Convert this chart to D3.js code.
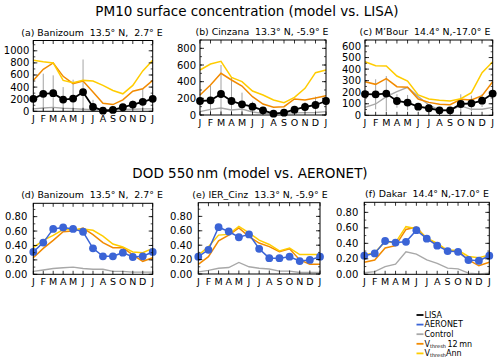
<!DOCTYPE html>
<html>
<head>
<meta charset="utf-8">
<script src="https://cdn.jsdelivr.net/npm/d3@7"></script>
<style>
  body { margin: 0; background: #fff; }
  text { font-family: "DejaVu Sans", sans-serif; white-space: pre; }
</style>
</head>
<body>
<div id="chart"></div>
<script>
// month labels (Jan repeated at the end)
const months = ["J", "F", "M", "A", "M", "J", "J", "A", "S", "O", "N", "D", "J"];

// ---- PM10 (ug/m3) ----
const lisa_a = [206, 289, 300, 194, 211, 317, 72, 11, 22, 67, 111, 156, 206];
const lisaSd_a = [40, 333, 294, 206, 311, 539, 117, 20, 25, 40, 67, 216, 40];
const control_a = [40, 55, 65, 50, 45, 35, 25, 20, 25, 30, 35, 40, 40];
const mn12_a = [511, 694, 800, 578, 456, 500, 317, 133, 111, 189, 333, 372, 511];
const ann_a = [844, 817, 800, 511, 472, 511, 500, 428, 344, 289, 428, 667, 844];

const lisa_b = [168, 176, 252, 168, 128, 100, 56, 16, 28, 64, 96, 120, 168];
const lisaSd_b = [40, 174, 348, 284, 140, 60, 40, 15, 20, 40, 60, 100, 40];
const control_b = [40, 68, 84, 60, 72, 36, 20, 20, 22, 25, 28, 30, 40];
const mn12_b = [240, 360, 500, 420, 348, 220, 132, 92, 100, 192, 180, 204, 232];
const ann_b = [540, 612, 644, 452, 400, 288, 240, 180, 148, 212, 320, 508, 540];

const lisa_c = [184, 182, 188, 124, 110, 75, 61, 43, 43, 98, 104, 127, 188];
const lisaSd_c = [30, 130, 152, 58, 66, 20, 20, 15, 20, 84, 66, 55, 30];
const control_c = [69, 98, 162, 205, 242, 162, 89, 46, 46, 81, 52, 52, 69];
const mn12_c = [291, 268, 317, 248, 242, 141, 112, 95, 92, 138, 133, 170, 291];
const ann_c = [464, 430, 427, 340, 297, 176, 141, 130, 124, 144, 196, 369, 464];

// ---- DOD 550 nm ----
const aeronet_d = [0.31, 0.44, 0.63, 0.65, 0.63, 0.59, 0.36, 0.25, 0.25, 0.30, 0.24, 0.25, 0.31];
const control_d = [0.04, 0.06, 0.08, 0.09, 0.10, 0.08, 0.07, 0.07, 0.04, 0.04, 0.03, 0.03, 0.03];
const mn12_d = [0.23, 0.36, 0.47, 0.59, 0.60, 0.64, 0.55, 0.44, 0.37, 0.37, 0.27, 0.18, 0.23];
const ann_d = [0.37, 0.47, 0.54, 0.62, 0.62, 0.63, 0.61, 0.53, 0.42, 0.38, 0.31, 0.30, 0.36];

const aeronet_e = [0.24, 0.335, 0.65, 0.59, 0.51, 0.55, 0.35, 0.22, 0.22, 0.24, 0.18, 0.195, 0.24];
const control_e = [0.03, 0.05, 0.08, 0.09, 0.16, 0.10, 0.08, 0.07, 0.04, 0.04, 0.02, 0.02, 0.02];
const mn12_e = [0.135, 0.24, 0.46, 0.54, 0.64, 0.52, 0.43, 0.38, 0.31, 0.35, 0.195, 0.135, 0.135];
const ann_e = [0.26, 0.38, 0.54, 0.55, 0.66, 0.57, 0.47, 0.41, 0.32, 0.36, 0.27, 0.27, 0.27];

const aeronet_f = [0.24, 0.27, 0.43, 0.41, 0.42, 0.57, 0.46, 0.37, 0.30, 0.29, 0.185, 0.175, 0.24];
const control_f = [0.02, 0.035, 0.10, 0.13, 0.29, 0.26, 0.185, 0.14, 0.08, 0.07, 0.015, 0.005, 0.015];
const mn12_f = [0.155, 0.185, 0.34, 0.37, 0.58, 0.61, 0.46, 0.39, 0.30, 0.30, 0.185, 0.11, 0.155];
const ann_f = [0.25, 0.28, 0.42, 0.41, 0.615, 0.59, 0.47, 0.40, 0.31, 0.31, 0.23, 0.215, 0.25];

const legendLabels = ["LISA", "AERONET", "Control", "12mn", "Ann"];

const col = { obs: "#000000", aer: "#3b64d6", ctl: "#a8a8a8", mn12: "#f28a00", ann: "#ffcc00" };

const svg = d3.select("#chart").append("svg")
  .attr("width", 500).attr("height", 363)
  .style("background", "#fff");

// main titles
svg.append("text").attr("x", 247).attr("y", 16).attr("text-anchor", "middle")
  .style("font-size", "13.5px").text("PM10 surface concentration (model vs. LISA)");
svg.append("text").attr("x", 250).attr("y", 178).attr("text-anchor", "middle")
  .style("font-size", "13.5px").text("DOD 550\u2009nm (model vs. AERONET)");

const panels = [
  { title: "(a) Banizoum  13.5\u00b0 N,  2.7\u00b0 E", tx: 92, x0: 33.3, x1: 152.7, y0: 40.5, y1: 111.3, ymax: 1170, step: 200, minor: 100, fmt: d3.format("d"),
    obs: lisa_a, sd: lisaSd_a, ctl: control_a, mn12: mn12_a, ann: ann_a },
  { title: "(b) Cinzana  13.3\u00b0 N, -5.9\u00b0 E", tx: 262, x0: 200, x1: 326, y0: 40, y1: 115, ymax: 900, step: 200, minor: 100, fmt: d3.format("d"),
    obs: lisa_b, sd: lisaSd_b, ctl: control_b, mn12: mn12_b, ann: ann_b },
  { title: "(c) M\u2019Bour  14.4\u00b0 N,-17.0\u00b0 E", tx: 425, x0: 365, x1: 492.7, y0: 40, y1: 115.3, ymax: 652, step: 100, minor: 50, fmt: d3.format("d"),
    obs: lisa_c, sd: lisaSd_c, ctl: control_c, mn12: mn12_c, ann: ann_c },
  { title: "(d) Banizoum  13.5\u00b0 N,  2.7\u00b0 E", tx: 92, x0: 33.3, x1: 152.7, y0: 203.3, y1: 274.3, ymax: 0.985, step: 0.2, minor: 0.1, fmt: d3.format(".2f"),
    aer: aeronet_d, ctl: control_d, mn12: mn12_d, ann: ann_d },
  { title: "(e) IER_Cinz  13.3\u00b0 N, -5.9\u00b0 E", tx: 260, x0: 198.3, x1: 320, y0: 202.7, y1: 274, ymax: 0.99, step: 0.2, minor: 0.1, fmt: d3.format(".2f"),
    aer: aeronet_e, ctl: control_e, mn12: mn12_e, ann: ann_e },
  { title: "(f) Dakar  14.4\u00b0 N,-17.0\u00b0 E", tx: 427, x0: 364.3, x1: 489.3, y0: 202.3, y1: 274.3, ymax: 0.93, step: 0.2, minor: 0.1, fmt: d3.format(".2f"),
    aer: aeronet_f, ctl: control_f, mn12: mn12_f, ann: ann_f }
];

panels.forEach(function (p) {
  const g = svg.append("g");
  const x = d3.scaleLinear().domain([0, 12]).range([p.x0, p.x1]);
  const y = d3.scaleLinear().domain([0, p.ymax]).range([p.y1, p.y0]);
  const majors = d3.range(0, p.ymax + 1e-9, p.step).filter(v => v <= p.ymax);
  const minors = d3.range(0, p.ymax + 1e-9, p.minor).filter(v => v <= p.ymax);

  const line = d3.line().x((d, i) => x(i)).y(d => y(d));

  // panel title
  g.append("text").attr("x", p.tx).attr("y", p.y0 - 5)
    .attr("text-anchor", "middle").style("font-size", "9.4px").text(p.title);

  // error bars
  if (p.sd) {
    g.selectAll(".err").data(p.obs).enter().append("line")
      .attr("x1", (d, i) => x(i)).attr("x2", (d, i) => x(i))
      .attr("y1", (d, i) => y(Math.max(0, d - p.sd[i])))
      .attr("y2", (d, i) => y(Math.min(p.ymax, d + p.sd[i])))
      .attr("stroke", "#8c8c8c").attr("stroke-width", 0.8);
  }

  // model lines
  g.append("path").datum(p.ctl).attr("d", line).attr("fill", "none")
    .attr("stroke", col.ctl).attr("stroke-width", 1.4);
  g.append("path").datum(p.mn12).attr("d", line).attr("fill", "none")
    .attr("stroke", col.mn12).attr("stroke-width", 1.5);
  g.append("path").datum(p.ann).attr("d", line).attr("fill", "none")
    .attr("stroke", col.ann).attr("stroke-width", 1.5);

  // observations
  const obs = p.obs || p.aer;
  const oc = p.obs ? col.obs : col.aer;
  g.append("path").datum(obs).attr("d", line).attr("fill", "none")
    .attr("stroke", oc).attr("stroke-width", p.obs ? 1.8 : 1.5);
  g.selectAll(".dot").data(obs).enter().append("circle")
    .attr("cx", (d, i) => x(i)).attr("cy", d => y(d))
    .attr("r", 3.9).attr("fill", oc);

  // frame
  g.append("rect").attr("x", p.x0).attr("y", p.y0)
    .attr("width", p.x1 - p.x0).attr("height", p.y1 - p.y0)
    .attr("fill", "none").attr("stroke", "#000").attr("stroke-width", 1);

  // y ticks inward (left and right)
  [[p.x0, 1], [p.x1, -1]].forEach(function (s) {
    g.selectAll(null).data(minors).enter().append("line")
      .attr("x1", s[0]).attr("x2", s[0] + s[1] * 2)
      .attr("y1", d => y(d)).attr("y2", d => y(d))
      .attr("stroke", "#000").attr("stroke-width", 0.7);
    g.selectAll(null).data(majors).enter().append("line")
      .attr("x1", s[0]).attr("x2", s[0] + s[1] * 4)
      .attr("y1", d => y(d)).attr("y2", d => y(d))
      .attr("stroke", "#000").attr("stroke-width", 0.8);
  });
  // x ticks inward (bottom and top)
  [[p.y1, -1], [p.y0, 1]].forEach(function (s) {
    g.selectAll(null).data(months).enter().append("line")
      .attr("x1", (d, i) => x(i)).attr("x2", (d, i) => x(i))
      .attr("y1", s[0]).attr("y2", s[0] + s[1] * 3.5)
      .attr("stroke", "#000").attr("stroke-width", 0.8);
  });

  // labels
  g.selectAll(null).data(majors).enter().append("text")
    .attr("x", p.x0 - (p.obs ? 4 : 6)).attr("y", d => y(d))
    .attr("text-anchor", "end").attr("dominant-baseline", "central")
    .style("font-size", "10px").text(d => p.fmt(d));
  g.selectAll(null).data(months).enter().append("text")
    .attr("x", (d, i) => x(i)).attr("y", p.y1 + 10.5)
    .attr("text-anchor", "middle").style("font-size", "9.5px").text(d => d);
});

// legend
const legColors = [col.obs, col.aer, col.ctl, col.mn12, col.ann];
const leg = svg.append("g");
legendLabels.forEach(function (lab, i) {
  const yy = 315 + i * 9.6;
  leg.append("line").attr("x1", 416.5).attr("x2", 423.5).attr("y1", yy).attr("y2", yy)
    .attr("stroke", legColors[i]).attr("stroke-width", 1.8);
  const t = leg.append("text").attr("x", 424.5).attr("y", yy)
    .attr("dominant-baseline", "central").style("font-size", "8px");
  if (i < 3) {
    t.text(lab);
  } else {
    t.append("tspan").text("V");
    t.append("tspan").style("font-size", "5px").attr("dy", 2).text("thresh");
    t.append("tspan").attr("dy", -2).text(i === 3 ? "\u200912\u2009mn" : lab);
  }
});
</script>
</body>
</html>
